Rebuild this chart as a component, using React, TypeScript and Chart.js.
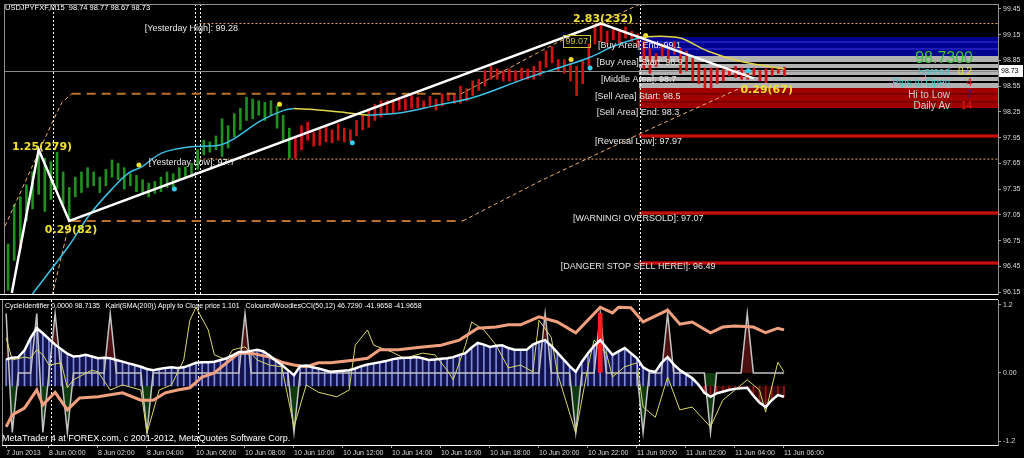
import React, { useEffect, useRef } from 'react';
import { Chart, registerables } from 'chart.js';
Chart.register(...registerables);

const FONT = '"Liberation Sans", Arial, sans-serif';

// ---------------- time axis ----------------
const X_MIN = -0.6735;
const X_MAX = 161.94;
const timeTickBars = [0, 7, 15, 23, 31, 39, 47, 55, 63, 71, 79, 87, 95, 103, 111, 119, 127];
const timeTickLabels = ['7 Jun 2013', '8 Jun 00:00', '8 Jun 02:00', '8 Jun 04:00', '10 Jun 06:00', '10 Jun 08:00',
  '10 Jun 10:00', '10 Jun 12:00', '10 Jun 14:00', '10 Jun 16:00', '10 Jun 18:00', '10 Jun 20:00', '10 Jun 22:00',
  '11 Jun 00:00', '11 Jun 02:00', '11 Jun 04:00', '11 Jun 06:00'];
const daySeparatorBars = [7.4, 31.4, 103.4];
const mainExtraSeparatorBars = [30.5];

// ---------------- price panel ----------------
const priceTicks = [96.15, 96.45, 96.75, 97.05, 97.35, 97.65, 97.95, 98.25, 98.55, 98.85, 99.15, 99.45];
const PRICE_MIN = 96.128;
const PRICE_MAX = 99.507;
const lastClose = 98.73;

const barHigh = [
  96.71, 97.17, 97.26, 97.40, 97.55, 97.81, 97.71, 97.67, 97.78, 97.55,
  97.37, 97.49, 97.55, 97.60, 97.55, 97.49, 97.58, 97.69, 97.65, 97.60,
  97.53, 97.51, 97.46, 97.42, 97.44, 97.49, 97.55, 97.53, 97.60, 97.61,
  97.65, 97.81, 97.92, 97.90, 97.97, 98.17, 98.09, 98.23, 98.29, 98.42,
  98.40, 98.38, 98.36, 98.38, 98.32, 98.21, 98.06, 97.94, 98.09, 98.13,
  98.01, 98.06, 98.08, 98.04, 98.11, 98.06, 98.04, 98.15, 98.21, 98.27,
  98.34, 98.38, 98.38, 98.39, 98.42, 98.40, 98.44, 98.42, 98.38, 98.43,
  98.40, 98.46, 98.47, 98.46, 98.55, 98.52, 98.61, 98.63, 98.73, 98.78,
  98.75, 98.73, 98.75, 98.73, 98.76, 98.75, 98.78, 98.84, 98.96, 99.01,
  98.86, 98.86, 98.82, 98.78, 98.84, 99.04, 99.27, 99.28, 99.19, 99.22,
  99.19, 99.24, 99.19, 99.16, 99.07, 98.99, 98.93, 99.04, 98.99, 99.07,
  98.99, 98.96, 98.88, 98.81, 98.76, 98.76, 98.76, 98.75, 98.76, 98.78,
  98.76, 98.75, 98.76, 98.73, 98.75, 98.76, 98.76, 98.77];
const barLow = [
  96.17, 96.52, 96.66, 96.98, 97.12, 97.29, 97.09, 97.23, 97.35, 97.17,
  96.98, 97.26, 97.31, 97.37, 97.39, 97.31, 97.39, 97.49, 97.46, 97.35,
  97.39, 97.32, 97.29, 97.26, 97.30, 97.32, 97.37, 97.37, 97.46, 97.49,
  97.49, 97.58, 97.75, 97.78, 97.81, 97.73, 97.83, 97.96, 98.04, 98.15,
  98.17, 98.21, 98.15, 98.21, 98.06, 97.90, 97.71, 97.71, 97.81, 97.92,
  97.85, 97.86, 97.90, 97.89, 97.92, 97.90, 97.91, 97.97, 98.04, 98.07,
  98.15, 98.19, 98.23, 98.24, 98.27, 98.27, 98.29, 98.30, 98.29, 98.32,
  98.27, 98.32, 98.38, 98.35, 98.35, 98.38, 98.44, 98.50, 98.55, 98.63,
  98.63, 98.61, 98.61, 98.61, 98.63, 98.63, 98.63, 98.67, 98.77, 98.82,
  98.73, 98.70, 98.61, 98.44, 98.58, 98.78, 99.04, 99.07, 99.04, 99.09,
  99.05, 99.11, 99.07, 99.01, 98.75, 98.70, 98.78, 98.90, 98.82, 98.92,
  98.70, 98.73, 98.61, 98.58, 98.53, 98.52, 98.58, 98.61, 98.67, 98.65,
  98.63, 98.63, 98.67, 98.61, 98.59, 98.67, 98.70, 98.67];
const greenBarCount = 47;

// moving average (rising part cyan, flat/falling part yellow)
const maRiseBars1 = [3.9, 9.94, 13.2, 16.96, 19.73, 21.86, 25.12, 29.53, 34.43, 36.55, 41.45, 45.2, 46.67];
const maRiseValues1 = [96.12, 96.69, 97.04, 97.35, 97.54, 97.61, 97.77, 97.84, 97.86, 97.92, 98.15, 98.27, 98.29];
const maFallBars1 = [46.67, 51.24, 55.3, 58.9];
const maFallValues1 = [98.29, 98.27, 98.24, 98.21];
const maRiseBars2 = [58.9, 64.3, 69.7, 76.2, 83.9, 87.2, 90.4, 95.3, 98.9, 103.5];
const maRiseValues2 = [98.21, 98.24, 98.32, 98.42, 98.62, 98.70, 98.77, 98.89, 99.01, 99.12];
const maFallBars2 = [103.5, 106.8, 110.0, 114.4, 119.8, 125.2, 127];
const maFallValues2 = [99.12, 99.13, 99.11, 98.96, 98.84, 98.77, 98.75];

// zigzag
const zigzagBars = [0.6, 5, 10, 97, 122];
const zigzagPrices = [96.14, 97.81, 96.98, 99.28, 98.64];

// channel lines
const channelTopBars = [10.4, 74.1];
const channelTopPrices = [98.46, 98.46];
const channelBottomBars = [10.4, 74.4];
const channelBottomPrices = [96.98, 96.98];
const rayUpperLeftBars = [-0.5, 7.5, 8.8, 10.4];
const rayUpperLeftPrices = [96.92, 98.17, 98.36, 98.46];
const rayLowerLeftBars = [7.2, 9.9, 10.4];
const rayLowerLeftPrices = [96.11, 96.92, 96.98];
const rayUpperRightBars = [74.1, 89.3, 103.5];
const rayUpperRightPrices = [98.46, 99.04, 99.51];
const rayLowerRightBars = [74.4, 87.2, 103.5, 121.4];
const rayLowerRightPrices = [96.98, 97.45, 98.00, 98.58];

// yesterday levels
const yesterdayStartBar = 31.3;
const yesterdayHigh = 99.28;
const yesterdayLow = 97.70;

// signal dots
const signalHighBars = [21.4, 44.4, 92.1, 104.3];
const signalHighPrices = [97.63, 98.34, 98.86, 99.14];
const signalLowBars = [27.2, 56.3, 95.2, 121.1];
const signalLowPrices = [97.35, 97.89, 98.76, 98.73];

// zones
const zoneStartBar = 103.2;
const zoneTops = [99.12, 98.90, 98.53];
const zoneBottoms = [98.90, 98.53, 98.29];
const zoneDividerPrices = [99.06, 98.98, 98.82, 98.75, 98.67, 98.60, 98.46, 98.37];
const reversalLevels = [97.97, 97.07, 96.49];

const levelLabelTexts = ['[Yesterday High]: 99.28', '[Yesterday Low]: 97.7', '[Buy Area] End: 99.1', '[Buy Area] Start: 98.9',
  '[Middle Area]: 98.7', '[Sell Area] Start: 98.5', '[Sell Area] End: 98.3', '[Reversal Low]: 97.97',
  '[WARNING! OVERSOLD]: 97.07', '[DANGER! STOP SELL HERE!]: 96.49'];
const levelLabelBars = [22.35, 23.0, 96.5, 96.3, 97.0, 96.0, 96.3, 96.0, 92.4, 90.4];
const levelLabelPrices = [99.22, 97.66, 99.02, 98.83, 98.63, 98.43, 98.24, 97.91, 97.01, 96.45];

const swingLabelTexts = ['1.25(279)', '0.29(82)', '2.83(232)', '0.29(67)'];
const swingLabelBars = [0.63, 6.0, 92.4, 119.8];
const swingLabelPrices = [97.84, 96.875, 99.335, 98.507];

const priceBoxText = '99.07';
const priceBoxBar = 90.8;
const priceBoxPrice = 99.065;

const infoNames = ['Spread', 'Pips to Open', 'Hi to Low', 'Daily Av'];
const infoValues = ['0.2', '4', '7', '14'];

// ---------------- indicator panel ----------------
const IND_MIN = -1.27;
const IND_MAX = 1.2875;
const indTicks = [-1.2, 0, 1.2];
const histBase = -0.23;
const cciValues = [
  0.24, 0.27, 0.28, 0.40, 0.62, 0.79, 0.70, 0.60, 0.50, 0.42,
  0.34, 0.29, 0.30, 0.32, 0.29, 0.26, 0.27, 0.26, 0.23, 0.20,
  0.17, 0.14, 0.11, 0.07, 0.05, 0.07, 0.09, 0.10, 0.09, 0.10,
  0.14, 0.18, 0.19, 0.19, 0.20, 0.23, 0.26, 0.31, 0.37, 0.37,
  0.39, 0.41, 0.38, 0.31, 0.22, 0.14, 0.05, -0.04, 0.12, 0.13,
  0.10, 0.08, 0.05, 0.02, 0.03, 0.04, 0.05, 0.08, 0.12, 0.15,
  0.17, 0.19, 0.21, 0.24, 0.26, 0.27, 0.27, 0.28, 0.26, 0.23,
  0.24, 0.25, 0.26, 0.28, 0.32, 0.35, 0.45, 0.53, 0.50, 0.46,
  0.48, 0.49, 0.44, 0.41, 0.41, 0.41, 0.50, 0.55, 0.58, 0.48,
  0.36, 0.24, 0.12, 0.02, 0.20, 0.35, 0.48, 0.58, 0.45, 0.32,
  0.38, 0.44, 0.35, 0.26, 0.10, 0.04, 0.02, 0.18, 0.28, 0.15,
  0.05, -0.02, -0.09, -0.20, -0.35, -0.42, -0.36, -0.33, -0.30, -0.28,
  -0.27, -0.26, -0.40, -0.52, -0.60, -0.48, -0.39, -0.42];
const kairiBars = [0, 1, 3, 5, 6, 8, 10, 12, 15, 19, 22, 24, 26, 28, 30, 32, 34, 36, 38, 40, 43, 45, 47, 49, 51,
  53, 57, 59, 61, 64, 68, 71, 74, 77, 80, 82, 84, 87, 90, 93, 97, 99, 100, 102, 104, 108, 110, 112, 115, 117,
  119, 122, 124, 126, 127];
const kairiValues = [-0.95, -0.74, -0.62, -0.30, -0.56, -0.34, -0.65, -0.44, -0.42, -0.35, -0.48, -0.48, -0.35,
  -0.30, -0.26, -0.07, 0.0, 0.18, 0.35, 0.35, 0.28, 0.19, 0.14, 0.11, 0.18, 0.18, 0.23, 0.26, 0.41, 0.41, 0.46,
  0.49, 0.58, 0.79, 0.81, 0.85, 0.85, 0.99, 0.90, 0.71, 1.16, 1.06, 1.16, 1.15, 0.90, 1.11, 0.86, 0.90, 0.71,
  0.81, 0.83, 0.81, 0.71, 0.79, 0.76];
const fastBars = [0, 1, 3, 4, 5, 6, 7, 9, 10, 11, 14, 15, 17, 19, 22, 23, 25, 27, 29, 30, 31, 33, 34, 36, 37, 39,
  41, 43, 45, 47, 49, 51, 54, 56, 57, 59, 60, 63, 65, 68, 70, 72, 73, 75, 76, 78, 80, 82, 84, 86, 87, 89, 90, 93,
  95, 96, 98, 99, 101, 103, 104, 106, 108, 110, 112, 115, 117, 119, 121, 123, 124, 126, 127];
const fastValues = [0.62, 0.23, 0.28, 0.26, 0.41, 0.32, 0.14, 0.18, -0.26, -0.12, 0.05, 0.02, -0.30, -0.21, -0.30,
  -1.06, -0.30, -0.21, 0.23, 0.93, 1.16, 0.76, 0.32, 0.23, 0.41, 0.46, 0.23, 0.14, 0.11, -0.95, -0.21, -0.34,
  -0.42, -0.30, 0.49, 0.76, 0.49, 0.37, 0.26, 0.35, 0.32, 0.05, -0.12, 0.49, 0.90, 0.76, 0.49, 0.09, 0.14, 0.02,
  0.93, 0.63, 0.0, -1.06, 0.11, 0.58, 0.35, -0.07, 0.11, 0.18, -0.60, -0.78, -0.07, -0.65, -0.60, -0.95, -0.48,
  -0.30, -0.12, -0.30, -0.69, 0.19, 0.02];
const cycleValues = [
  1.05, -1.05, 0, 0, 0, 1.05, -1.05, 0, 1.05, 0, -1.05, 0, 0, 0, 0, 0,
  0, 1.05, 0, 0, 0, 0, 0, -1.05, 0, 0, 0, 0, 0, 0, 0, 0,
  0, 0, 0, 0, 0, 0, 0, 1.05, 0, 0, 0, 0, 0, 0, 0, -1.05,
  0, 0, 0, 0, 0, 0, 0, 0, 0, 0, 0, 0, 0, 0, 0, 0,
  0, 0, 0, 0, 0, 0, 0, 0, 0, 0, 0, 0, 0, 0, 0, 0,
  0, 0, 0, 0, 0, 0, 0, 0, 1.05, 0, 0, 0, 0, -1.05, 0, 0,
  0, 1.05, 0, 0, 0, 0, 0, 0, -1.05, 0, 0, 0, 1.05, 0, 0, 0,
  0, 0, 0, -1.05, 0, 0, 0, 0, 0, 1.05, 0, 0, 0, 0, 0, 0];
const cycleSignalBars = [97];
const cycleSignalValues = [1.05];

const mainHeader = 'USDJPYFXF,M15  98.74 98.77 98.67 98.73';
const indHeader = 'CycleIdentifier 0.0000 98.7135   Kairi(SMA(200)) Apply to Close price 1.101   ColouredWoodiesCCI(50,12) 46.7290 -41.9658 -41.9658';
const copyright = 'MetaTrader 4 at FOREX.com, c 2001-2012, MetaQuotes Software Corp.';

// ---------------- helpers ----------------
const pts = (bars: number[], vals: number[]) => bars.map((b, i) => ({ x: b, y: vals[i] }));

function lineDs(data: any[], color: string, width: number, extra: any = {}) {
  return { type: 'line', data, borderColor: color, borderWidth: width, pointRadius: 0, fill: false, tension: 0, ...extra };
}

function txt(ctx: CanvasRenderingContext2D, s: string, x: number, y: number, color: string, font: string, align: CanvasTextAlign = 'left') {
  ctx.font = font;
  ctx.fillStyle = color;
  ctx.textAlign = align;
  ctx.textBaseline = 'middle';
  ctx.fillText(s, x, y);
}

function separators(chart: any, bars: number[]) {
  const { ctx, chartArea: a, scales } = chart;
  ctx.save();
  ctx.strokeStyle = '#ffffff';
  ctx.lineWidth = 1;
  ctx.setLineDash([2, 2]);
  bars.forEach((b) => {
    const xx = Math.round(scales.x.getPixelForValue(b)) + 0.5;
    ctx.beginPath();
    ctx.moveTo(xx, a.top);
    ctx.lineTo(xx, a.bottom);
    ctx.stroke();
  });
  ctx.restore();
}

const mainDecor = {
  id: 'mainDecor',
  beforeDatasetsDraw(chart: any) {
    const { ctx, chartArea: a, scales } = chart;
    const x = scales.x, y = scales.y;
    ctx.save();
    ctx.beginPath();
    ctx.rect(a.left, a.top, a.right - a.left, a.bottom - a.top);
    ctx.clip();
    const xs = Math.round(x.getPixelForValue(zoneStartBar));
    const zoneColors = ['#00008e', '#b2b2b2', '#a00000'];
    zoneTops.forEach((top, k) => {
      const y1 = Math.round(y.getPixelForValue(top));
      const y2 = Math.round(y.getPixelForValue(zoneBottoms[k]));
      ctx.fillStyle = zoneColors[k];
      ctx.fillRect(xs, y1, a.right - xs, y2 - y1);
    });
    zoneDividerPrices.forEach((p) => {
      const yy = Math.round(y.getPixelForValue(p));
      ctx.fillStyle = p > 98.9 ? '#1c1cb8' : p > 98.53 ? '#000000' : '#7a0000';
      ctx.fillRect(xs, yy - 1, a.right - xs, 2);
    });
    reversalLevels.forEach((p) => {
      const yy = Math.round(y.getPixelForValue(p));
      ctx.fillStyle = '#880000';
      ctx.fillRect(xs, yy - 2, a.right - xs, 4);
      ctx.fillStyle = '#c41010';
      ctx.fillRect(xs, yy - 1, a.right - xs, 2);
    });
    const yc = Math.round(y.getPixelForValue(lastClose)) + 0.5;
    ctx.strokeStyle = '#8a8a8a';
    ctx.lineWidth = 1;
    ctx.beginPath();
    ctx.moveTo(a.left, yc);
    ctx.lineTo(a.right, yc);
    ctx.stroke();
    ctx.restore();
    separators(chart, [...daySeparatorBars, ...mainExtraSeparatorBars]);
  },
  afterDatasetsDraw(chart: any) {
    const { ctx, chartArea: a, scales } = chart;
    const x = scales.x, y = scales.y;
    ctx.save();
    levelLabelTexts.forEach((s, k) => {
      txt(ctx, s, x.getPixelForValue(levelLabelBars[k]), y.getPixelForValue(levelLabelPrices[k]), '#e6e6e6', `9px ${FONT}`);
    });
    swingLabelTexts.forEach((s, k) => {
      txt(ctx, s, x.getPixelForValue(swingLabelBars[k]), y.getPixelForValue(swingLabelPrices[k]), '#f0e030', `bold 11px "DejaVu Sans", ${FONT}`);
    });
    // price box
    const bx = Math.round(x.getPixelForValue(priceBoxBar)) + 0.5;
    const by = Math.round(y.getPixelForValue(priceBoxPrice));
    ctx.strokeStyle = '#c8c030';
    ctx.lineWidth = 1;
    ctx.strokeRect(bx, by - 6.5, 27, 12);
    txt(ctx, priceBoxText, bx + 2, by, '#c8c030', `9px ${FONT}`);
    // info block (screen anchored)
    txt(ctx, '98.7300', a.right - 25, a.top + 55, '#3cc43c', `16px ${FONT}`, 'right');
    const nameColors = ['#46c0c8', '#46c0c8', '#d0d0d0', '#d0d0d0'];
    const valueColors = ['#e8e030', '#e02020', '#2828a0', '#e02020'];
    const rowY = [68, 79, 91, 102];
    infoNames.forEach((s, k) => {
      txt(ctx, s, a.right - 48, a.top + rowY[k], nameColors[k], `10px ${FONT}`, 'right');
      txt(ctx, infoValues[k], a.right - 26, a.top + rowY[k], valueColors[k], `10px ${FONT}`, 'right');
    });
    ctx.restore();
  },
  afterDraw(chart: any) {
    const { ctx, chartArea: a, scales } = chart;
    ctx.save();
    ctx.lineWidth = 1;
    ctx.strokeStyle = '#909090';
    ctx.beginPath();
    ctx.moveTo(a.left + 0.5, a.bottom);
    ctx.lineTo(a.left + 0.5, a.top + 0.5);
    ctx.lineTo(a.right, a.top + 0.5);
    ctx.stroke();
    ctx.strokeStyle = '#ffffff';
    ctx.beginPath();
    ctx.moveTo(0, a.bottom + 0.5);
    ctx.lineTo(a.right, a.bottom + 0.5);
    ctx.stroke();
    // last price tag
    const yc = Math.round(scales.y.getPixelForValue(lastClose));
    ctx.fillStyle = '#ffffff';
    ctx.fillRect(a.right + 1, yc - 6, 24, 12);
    txt(ctx, lastClose.toFixed(2), a.right + 3, yc, '#000000', `7px ${FONT}`);
    txt(ctx, mainHeader, 5, 8, '#ffffff', `7.5px ${FONT}`);
    ctx.restore();
  },
};

const indDecor = {
  id: 'indDecor',
  beforeDatasetsDraw(chart: any) {
    separators(chart, daySeparatorBars);
  },
  afterDraw(chart: any) {
    const { ctx, chartArea: a } = chart;
    ctx.save();
    ctx.lineWidth = 1;
    ctx.strokeStyle = '#ffffff';
    ctx.beginPath();
    ctx.moveTo(0, a.top - 0.5);
    ctx.lineTo(a.right, a.top - 0.5);
    ctx.stroke();
    ctx.strokeStyle = '#909090';
    ctx.beginPath();
    ctx.moveTo(a.left + 0.5, a.top);
    ctx.lineTo(a.left + 0.5, a.bottom);
    ctx.stroke();
    txt(ctx, indHeader, 5, a.top + 6, '#ffffff', `7px ${FONT}`);
    txt(ctx, copyright, 2, a.bottom - 6, '#ffffff', `9px ${FONT}`);
    ctx.restore();
  },
};

function xScale(display: boolean) {
  return {
    type: 'linear',
    min: X_MIN,
    max: X_MAX,
    offset: false,
    bounds: 'data',
    display,
    position: 'bottom',
    afterBuildTicks: (s: any) => { s.ticks = timeTickBars.map((v) => ({ value: v })); },
    afterFit: (s: any) => { s.height = display ? 13 : 0; s.paddingLeft = 0; s.paddingRight = 0; },
    ticks: {
      autoSkip: false, maxRotation: 0, minRotation: 0, align: 'start', padding: 1,
      color: '#d8d8d8', font: { family: FONT, size: 7 },
      callback: (v: any) => { const k = timeTickBars.indexOf(Number(v)); return k >= 0 ? timeTickLabels[k] : ''; },
    },
    grid: { display: true, drawOnChartArea: false, drawTicks: true, tickLength: 3, color: '#a0a0a0', offset: false },
    border: { display: true, color: '#ffffff' },
  };
}

function yScale(min: number, max: number, tickVals: number[], fmt: (v: number) => string) {
  return {
    type: 'linear',
    position: 'right',
    min, max,
    afterBuildTicks: (s: any) => { s.ticks = tickVals.map((v) => ({ value: v })); },
    afterFit: (s: any) => { s.width = 26; s.paddingTop = 0; s.paddingBottom = 0; },
    ticks: { color: '#d8d8d8', font: { family: FONT, size: 7 }, padding: 2, callback: (v: any) => fmt(Number(v)) },
    grid: { display: true, drawOnChartArea: false, drawTicks: true, tickLength: 3, color: '#a0a0a0' },
    border: { display: true, color: '#909090' },
  };
}

function mainConfig(): any {
  const datasets: any[] = [
    {
      type: 'bar',
      data: barHigh.map((h, i) => ({ x: i, y: [barLow[i], h] })),
      backgroundColor: (c: any) => (c.dataIndex < greenBarCount ? '#1f8f1f' : '#d01212'),
      barThickness: 2, grouped: false, borderWidth: 0, order: 9,
    },
    lineDs(pts([yesterdayStartBar, X_MAX], [yesterdayHigh, yesterdayHigh]), '#e8a860', 1, { borderDash: [2, 2], order: 8 }),
    lineDs(pts([yesterdayStartBar, X_MAX], [yesterdayLow, yesterdayLow]), '#e8a860', 1, { borderDash: [2, 2], order: 8 }),
    lineDs(pts(channelTopBars, channelTopPrices), '#b8702c', 2, { borderDash: [9, 6], order: 8 }),
    lineDs(pts(channelBottomBars, channelBottomPrices), '#b8702c', 2, { borderDash: [9, 6], order: 8 }),
    lineDs(pts(rayUpperLeftBars, rayUpperLeftPrices), '#e8b070', 1, { borderDash: [4, 3], order: 8 }),
    lineDs(pts(rayLowerLeftBars, rayLowerLeftPrices), '#e8b070', 1, { borderDash: [4, 3], order: 8 }),
    lineDs(pts(rayUpperRightBars, rayUpperRightPrices), '#e8b070', 1, { borderDash: [4, 3], order: 8 }),
    lineDs(pts(rayLowerRightBars, rayLowerRightPrices), '#e8b070', 1, { borderDash: [4, 3], order: 8 }),
    lineDs(pts(maRiseBars1, maRiseValues1), '#3cc0e4', 1.5, { tension: 0.35, order: 4 }),
    lineDs(pts(maFallBars1, maFallValues1), '#e4d448', 1.5, { tension: 0.35, order: 4 }),
    lineDs(pts(maRiseBars2, maRiseValues2), '#3cc0e4', 1.5, { tension: 0.35, order: 4 }),
    lineDs(pts(maFallBars2, maFallValues2), '#e4d448', 1.5, { tension: 0.35, order: 4 }),
    lineDs(pts(zigzagBars, zigzagPrices), '#ffffff', 2.5, { order: 3 }),
    { type: 'scatter', data: pts(signalHighBars, signalHighPrices), pointRadius: 2.5, pointBackgroundColor: '#f0e030', pointBorderWidth: 0, order: 2 },
    { type: 'scatter', data: pts(signalLowBars, signalLowPrices), pointRadius: 2.5, pointBackgroundColor: '#30d0f0', pointBorderWidth: 0, order: 2 },
  ];
  return {
    type: 'bar',
    data: { datasets },
    options: {
      animation: false, responsive: false, maintainAspectRatio: false, events: [],
      layout: { padding: { left: 2, top: 2, right: 0, bottom: 2 } },
      plugins: { legend: { display: false }, tooltip: { enabled: false } },
      scales: {
        x: xScale(false),
        y: yScale(PRICE_MIN, PRICE_MAX, priceTicks, (v) => v.toFixed(2)),
      },
    },
    plugins: [mainDecor],
  };
}

function indConfig(): any {
  const datasets: any[] = [
    {
      type: 'bar',
      data: cciValues.map((v, i) => ({ x: i, y: [histBase, v] })),
      backgroundColor: (c: any) => (cciValues[c.dataIndex] >= histBase ? '#7c8ad8' : '#a01414'),
      barThickness: 1, grouped: false, borderWidth: 0, order: 9,
    },
    lineDs(cycleValues.map((v, i) => ({ x: i, y: v })), '#c4c4c4', 1.5, {
      fill: { target: 'origin', above: '#4c1010', below: '#0e3a0e' }, order: 7,
    }),
    lineDs(pts(fastBars, fastValues), '#d8d868', 1, { order: 6 }),
    {
      type: 'bar', data: pts(cycleSignalBars, cycleSignalValues).map((p) => ({ x: p.x, y: [0, p.y] })),
      backgroundColor: '#ff1c1c', barThickness: 4, grouped: false, borderWidth: 0, order: 5,
    },
    lineDs(pts(kairiBars, kairiValues), '#f0a07e', 3, { order: 4 }),
    lineDs(cciValues.map((v, i) => ({ x: i, y: v })), '#ffffff', 2.5, {
      fill: { target: { value: histBase }, above: '#12124e', below: '#2c0808' }, order: 3,
    }),
  ];
  return {
    type: 'bar',
    data: { datasets },
    options: {
      animation: false, responsive: false, maintainAspectRatio: false, events: [],
      layout: { padding: { left: 2, top: 2, right: 0, bottom: 0 } },
      plugins: { legend: { display: false }, tooltip: { enabled: false }, filler: { drawTime: 'beforeDatasetsDraw' } },
      scales: {
        x: xScale(true),
        y: yScale(IND_MIN, IND_MAX, indTicks, (v) => (v === 0 ? '0.00' : v.toFixed(1))),
      },
    },
    plugins: [indDecor],
  };
}

export default function App() {
  const mainRef = useRef<HTMLCanvasElement>(null);
  const indRef = useRef<HTMLCanvasElement>(null);
  useEffect(() => {
    const c1 = new Chart(mainRef.current as HTMLCanvasElement, mainConfig());
    const c2 = new Chart(indRef.current as HTMLCanvasElement, indConfig());
    return () => { c1.destroy(); c2.destroy(); };
  }, []);
  return (
    <div style={{ position: 'fixed', left: 0, top: 0, width: 1024, height: 458, background: '#000', overflow: 'hidden' }}>
      <canvas ref={mainRef} width={1024} height={298} style={{ position: 'absolute', left: 0, top: 0, width: 1024, height: 298 }} />
      <canvas ref={indRef} width={1024} height={160} style={{ position: 'absolute', left: 0, top: 298, width: 1024, height: 160 }} />
    </div>
  );
}
